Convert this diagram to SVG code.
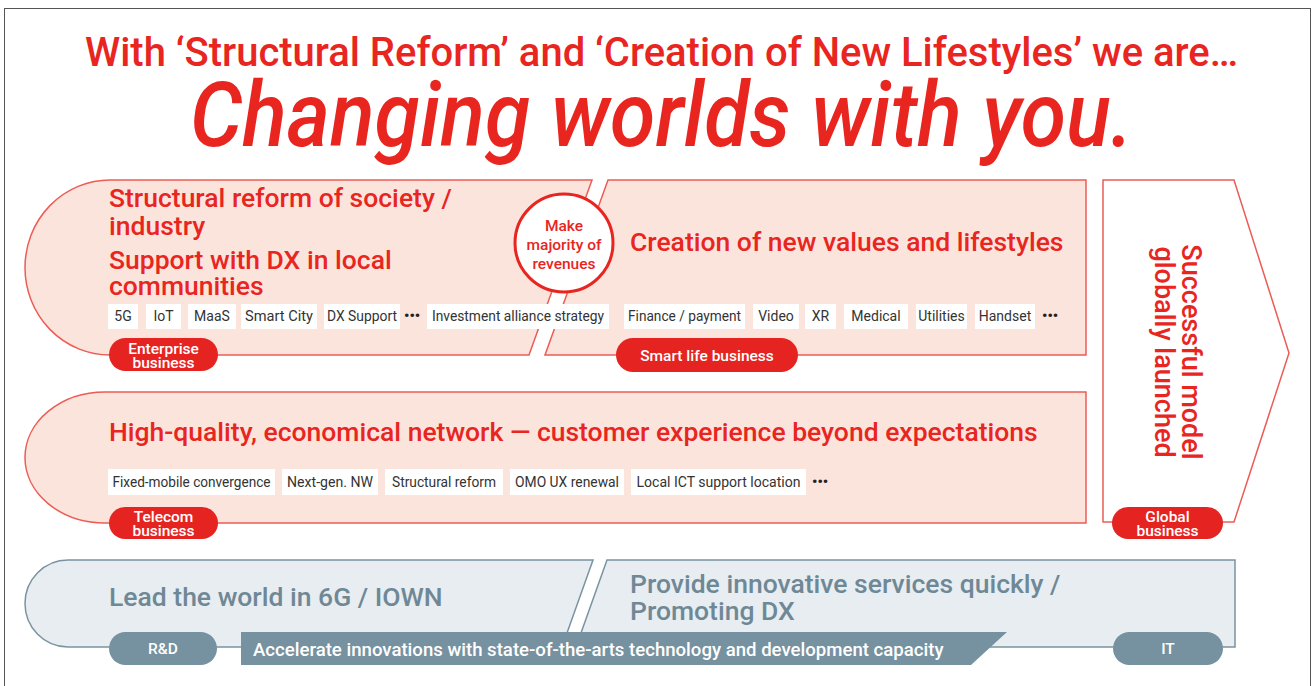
<svg xmlns="http://www.w3.org/2000/svg" width="1314" height="686" viewBox="0 0 1314 686">
<style>
text{font-family:Roboto,"Liberation Sans",sans-serif}
.red{fill:#e8251f}
.panel{fill:#fbe4dc;stroke:#ec5c55;stroke-width:1.5}
.gpanel{fill:#e8edf1;stroke:#7a93a1;stroke-width:1.5}
.h{font-size:26.5px;font-weight:500;fill:#e8251f}
.gh{font-size:26.5px;font-weight:500;fill:#6f8896}
.tag{fill:#fff}
.tt{font-size:14px;font-weight:400;fill:#333;text-anchor:middle}
.badge{fill:#e52421}
.gbadge{fill:#7691a0}
.bt{font-size:15.5px;font-weight:500;fill:#fff;text-anchor:middle}
.dots{font-size:15px;font-weight:700;fill:#222}
</style>
<rect x="4.5" y="8.5" width="1306" height="690" fill="#fff" stroke="#555" stroke-width="1"/>
<g id="title">
<text x="85" y="66" font-size="41" font-weight="500" class="red" textLength="1153" lengthAdjust="spacingAndGlyphs">With ‘Structural Reform’ and ‘Creation of New Lifestyles’ we are…</text>
<text x="190" y="146" font-size="90" font-weight="500" font-style="italic" class="red" textLength="943" lengthAdjust="spacingAndGlyphs">Changing worlds with you.</text>
</g>
<g id="smartlife">
<path class="panel" d="M608,180 L1086,180 L1086,355 L545,355 Z"/>
<text x="630" y="251" class="h">Creation of new values and lifestyles</text>
<rect class="tag" x="624" y="304" width="121" height="25"/><text class="tt" x="684.5" y="321" textLength="113" lengthAdjust="spacingAndGlyphs">Finance / payment</text>
<rect class="tag" x="753" y="304" width="46" height="25"/><text class="tt" x="776" y="321">Video</text>
<rect class="tag" x="805" y="304" width="31" height="25"/><text class="tt" x="820.5" y="321">XR</text>
<rect class="tag" x="844" y="304" width="64" height="25"/><text class="tt" x="876" y="321">Medical</text>
<rect class="tag" x="916" y="304" width="51" height="25"/><text class="tt" x="941.5" y="321">Utilities</text>
<rect class="tag" x="975" y="304" width="60" height="25"/><text class="tt" x="1005" y="321">Handset</text>
<text class="dots" x="1042" y="321">•••</text>
<rect class="badge" x="616" y="338" width="182" height="34" rx="17"/>
<text class="bt" x="707" y="361" font-size="16.5">Smart life business</text>
</g>
<g id="enterprise">
<path class="panel" d="M592,180 L529,355 L110,355 A85,87.5 0 0 1 110,180 Z"/>
<text x="109" y="207" class="h">Structural reform of society /</text>
<text x="109" y="235" class="h">industry</text>
<text x="109" y="269" class="h">Support with DX in local</text>
<text x="109" y="295" class="h">communities</text>
<rect class="tag" x="108" y="304" width="30" height="25"/><text class="tt" x="123" y="321">5G</text>
<rect class="tag" x="146" y="304" width="35" height="25"/><text class="tt" x="163.5" y="321">IoT</text>
<rect class="tag" x="188" y="304" width="48" height="25"/><text class="tt" x="212" y="321">MaaS</text>
<rect class="tag" x="241" y="304" width="76" height="25"/><text class="tt" x="279" y="321" textLength="68" lengthAdjust="spacingAndGlyphs">Smart City</text>
<rect class="tag" x="324" y="304" width="76" height="25"/><text class="tt" x="362" y="321" textLength="70" lengthAdjust="spacingAndGlyphs">DX Support</text>
<text class="dots" x="404" y="321">•••</text>
<rect class="tag" x="427" y="304" width="182" height="25"/><text class="tt" x="518" y="321" textLength="172" lengthAdjust="spacingAndGlyphs">Investment alliance strategy</text>
<rect class="badge" x="109" y="338" width="109" height="33" rx="16.5"/>
<text class="bt" x="163.5" y="353.5">Enterprise</text>
<text class="bt" x="163.5" y="367.5">business</text>
</g>
<g id="majority">
<circle cx="564" cy="243" r="49" fill="#fff" stroke="#e8251f" stroke-width="3"/>
<text x="564" y="231" font-size="15.5" font-weight="500" class="red" text-anchor="middle">Make</text>
<text x="564" y="250" font-size="15.5" font-weight="500" class="red" text-anchor="middle">majority of</text>
<text x="564" y="269" font-size="15.5" font-weight="500" class="red" text-anchor="middle">revenues</text>
</g>
<g id="global">
<path d="M1103,180 L1234,180 L1289,353 L1234,522 L1103,522 Z" fill="#fff" stroke="#ec5c55" stroke-width="1.5"/>
<text transform="translate(1182,352) rotate(90)" font-size="27" font-weight="500" class="red" text-anchor="middle">Successful model</text>
<text transform="translate(1155,352) rotate(90)" font-size="27" font-weight="500" class="red" text-anchor="middle">globally launched</text>
<rect class="badge" x="1112" y="507" width="111" height="32" rx="16"/>
<text class="bt" x="1167.5" y="521.5">Global</text>
<text class="bt" x="1167.5" y="535.5">business</text>
</g>
<g id="telecom">
<path class="panel" d="M1086,392 L1086,523 L105,523 A80,65.5 0 0 1 105,392 Z"/>
<text x="109" y="441" class="h">High-quality, economical network — customer experience beyond expectations</text>
<rect class="tag" x="108" y="469" width="167" height="26"/><text class="tt" x="191.5" y="487" textLength="158" lengthAdjust="spacingAndGlyphs">Fixed-mobile convergence</text>
<rect class="tag" x="282" y="469" width="96" height="26"/><text class="tt" x="330" y="487" textLength="86" lengthAdjust="spacingAndGlyphs">Next-gen. NW</text>
<rect class="tag" x="385" y="469" width="118" height="26"/><text class="tt" x="444" y="487" textLength="104" lengthAdjust="spacingAndGlyphs">Structural reform</text>
<rect class="tag" x="510" y="469" width="114" height="26"/><text class="tt" x="567" y="487" textLength="104" lengthAdjust="spacingAndGlyphs">OMO UX renewal</text>
<rect class="tag" x="631" y="469" width="175" height="26"/><text class="tt" x="718.5" y="487" textLength="164" lengthAdjust="spacingAndGlyphs">Local ICT support location</text>
<text class="dots" x="812" y="487">•••</text>
<rect class="badge" x="109" y="507" width="109" height="32" rx="16"/>
<text class="bt" x="163.5" y="521.5">Telecom</text>
<text class="bt" x="163.5" y="535.5">business</text>
</g>
<g id="rnd">
<path class="gpanel" d="M593,560 L562,647 L68,647 A43,43.5 0 0 1 68,560 Z"/>
<text x="109" y="606" class="gh">Lead the world in 6G / IOWN</text>
<rect class="gbadge" x="109" y="632" width="108" height="33" rx="16.5"/>
<text class="bt" x="163" y="654" font-size="15">R&amp;D</text>
</g>
<g id="it">
<path class="gpanel" d="M607,560 L1235,560 L1235,647 L576,647 Z"/>
<text x="630" y="593" class="gh">Provide innovative services quickly /</text>
<text x="630" y="620" class="gh">Promoting DX</text>
<rect class="gbadge" x="1113" y="632" width="110" height="33" rx="16.5"/>
<text class="bt" x="1168" y="654" font-size="15">IT</text>
</g>
<g id="accelerate">
<path class="gbadge" d="M241,632 L1007,632 L971,665 L241,665 Z"/>
<text x="253" y="656" font-size="18.6" font-weight="500" fill="#fff">Accelerate innovations with state-of-the-arts technology and development capacity</text>
</g>
<g id="connectors"/>
</svg>
